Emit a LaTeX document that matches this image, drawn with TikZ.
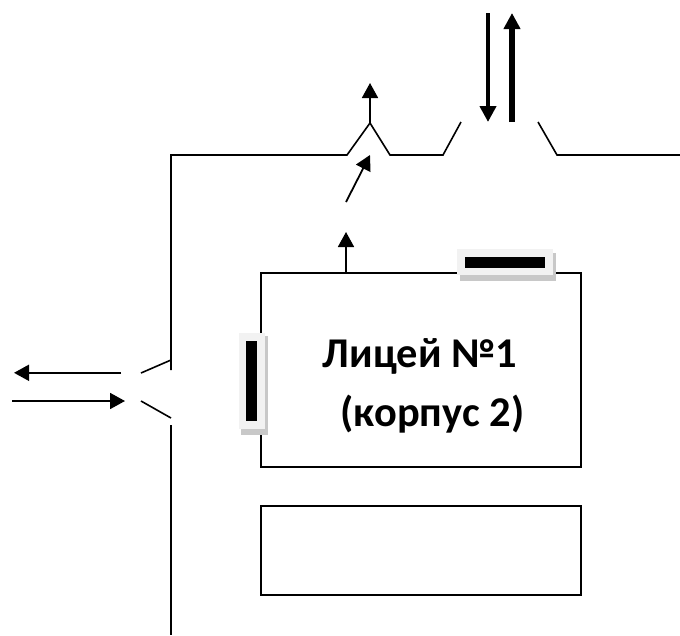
\documentclass[tikz,border=0pt]{standalone}
\usepackage{fontspec}
\setmainfont{Carlito}
\usetikzlibrary{arrows.meta}
\definecolor{winlight}{HTML}{F2F2F2}
\definecolor{winshadow}{HTML}{C8C8C8}
\tikzset{
  wall/.style={line width=1.6pt,black},
  room/.style={draw=black,line width=1.6pt,fill=white,minimum width=0pt},
  lbl/.style={font=\fontsize{42.4}{46}\bfseries\selectfont,inner sep=0pt,anchor=base},
  flowsmall/.style={line width=1.8pt,-{Triangle[length=15pt,width=16pt]}},
  flowthin/.style={line width=1.8pt,-{Triangle[length=15pt,width=16pt]}}
}
\begin{document}
\begin{tikzpicture}[x=1pt,y=-1pt]
\useasboundingbox (0,0) rectangle (680,635);
% walls
\draw[wall] (680,155) -- (557,155) -- (538,122);
\draw[wall] (461,122) -- (443,155) -- (390,155) -- (370,123) -- (347,155) -- (171,155) -- (171,370);
\draw[wall] (171,360) -- (141,373);
\draw[wall] (141,401) -- (171,418);
\draw[wall] (171,425) -- (171,635);
% buildings
\draw[room] (261,273) rectangle (581,467);
\draw[room] (261,506) rectangle (581,595);
% text
\node[lbl] (t1) at (420,367.5) {Лицей №1};
\node[lbl] (t2) at (432.5,426.5) {(корпус 2)};
% windows
\fill[winshadow] (460,253) rectangle (556,281);
\fill[winlight] (457,249) rectangle (553,275);
\fill[black] (465,257) rectangle (545,268);
\fill[winshadow] (241,336) rectangle (268,435);
\fill[winlight] (239,333) rectangle (265,429);
\fill[black] (246,341) rectangle (257,421);
% arrows
\coordinate (a1s) at (488,13); \coordinate (a1e) at (488,122);
\coordinate (a2s) at (512,122); \coordinate (a2e) at (512,13);
\coordinate (a3s) at (370,123); \coordinate (a3e) at (370,83);
\coordinate (a4s) at (346,202); \coordinate (a4e) at (370,155);
\coordinate (a5s) at (346,273); \coordinate (a5e) at (346,232);
\coordinate (a6s) at (121,372.8); \coordinate (a6e) at (14,372.8);
\coordinate (a7s) at (12,401); \coordinate (a7e) at (125,401);
\draw[line width=4pt,-{Triangle[length=16pt,width=16pt]}] (a1s) -- (a1e);
\draw[line width=5.5pt,-{Triangle[length=16pt,width=16pt]}] (a2s) -- (a2e);
\draw[flowsmall] (a3s) -- (a3e);
\draw[flowsmall] (a4s) -- (a4e);
\draw[flowsmall] (a5s) -- (a5e);
\draw[flowthin] (a6s) -- (a6e);
\draw[flowthin] (a7s) -- (a7e);
\end{tikzpicture}
\end{document}
